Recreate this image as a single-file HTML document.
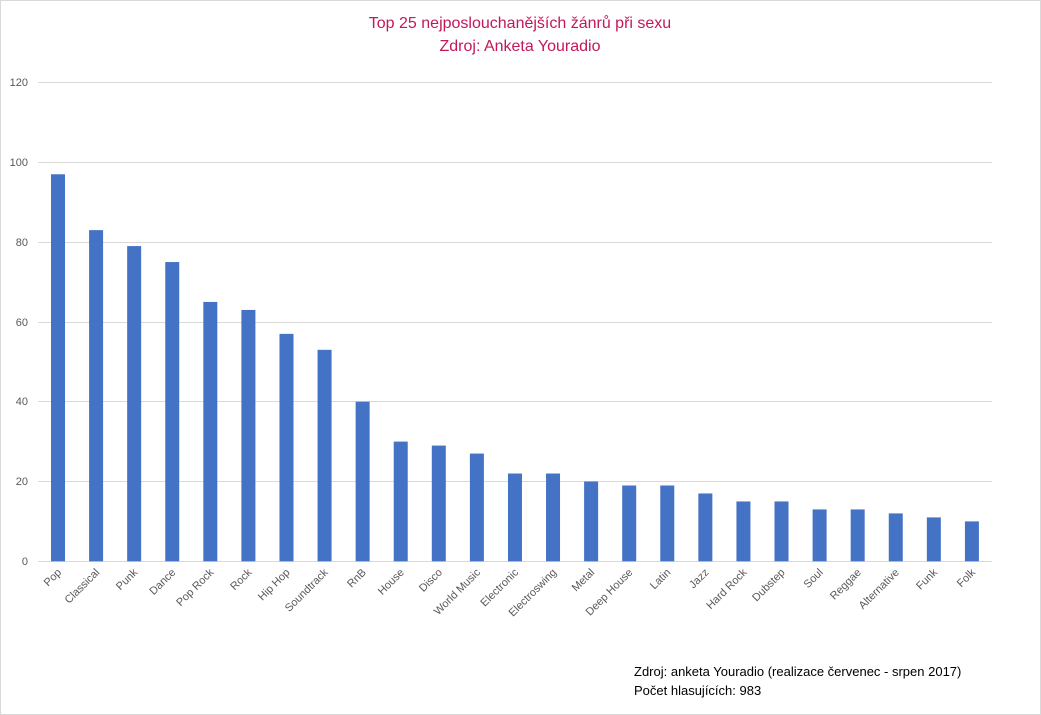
<!DOCTYPE html>
<html><head><meta charset="utf-8"><style>
body{margin:0;background:#fff}
svg{display:block}
</style></head><body>
<svg width="1041" height="715" xmlns="http://www.w3.org/2000/svg" font-family="'Liberation Sans', sans-serif">
<rect x="0.5" y="0.5" width="1040" height="714" fill="#fff" stroke="#d9d9d9"/>
<text x="520" y="28" text-anchor="middle" font-size="16" fill="#c2185b">Top 25 nejposlouchanějších žánrů při sexu</text>
<text x="520" y="51" text-anchor="middle" font-size="16" fill="#c2185b">Zdroj: Anketa Youradio</text>
<g stroke="#d9d9d9" stroke-width="1">
<line x1="38" x2="992" y1="82.5" y2="82.5"/>
<line x1="38" x2="992" y1="162.5" y2="162.5"/>
<line x1="38" x2="992" y1="242.5" y2="242.5"/>
<line x1="38" x2="992" y1="322.5" y2="322.5"/>
<line x1="38" x2="992" y1="401.5" y2="401.5"/>
<line x1="38" x2="992" y1="481.5" y2="481.5"/>
<line x1="38" x2="992" y1="561.5" y2="561.5"/>
</g>
<g font-size="11" fill="#595959" text-anchor="end">
<text x="28" y="86">120</text><text x="28" y="166">100</text><text x="28" y="246">80</text>
<text x="28" y="326">60</text><text x="28" y="405">40</text><text x="28" y="485">20</text><text x="28" y="565">0</text>
</g>
<g id="bars" fill="#4472c4"></g>
<g id="labels" font-size="11" fill="#595959" text-anchor="end"></g>
<text x="634" y="676" font-size="13" fill="#000">Zdroj: anketa Youradio (realizace červenec - srpen 2017)</text>
<text x="634" y="695" font-size="13" fill="#000">Počet hlasujících: 983</text>
<script>
var d=[["Pop",97],["Classical",83],["Punk",79],["Dance",75],["Pop Rock",65],["Rock",63],["Hip Hop",57],["Soundtrack",53],["RnB",40],["House",30],["Disco",29],["World Music",27],["Electronic",22],["Electroswing",22],["Metal",20],["Deep House",19],["Latin",19],["Jazz",17],["Hard Rock",15],["Dubstep",15],["Soul",13],["Reggae",13],["Alternative",12],["Funk",11],["Folk",10]];
var b=document.getElementById("bars"),l=document.getElementById("labels"),ns="http://www.w3.org/2000/svg";
d.forEach(function(e,i){var cx=58+i*38.08,h=e[1]*3.99;
var r=document.createElementNS(ns,"rect");r.setAttribute("x",cx-7);r.setAttribute("width",14);r.setAttribute("y",561.3-h);r.setAttribute("height",h);b.appendChild(r);
var t=document.createElementNS(ns,"text");t.setAttribute("transform","translate("+(cx+4)+",573) rotate(-45)");t.textContent=e[0];l.appendChild(t);});
</script>
</svg>
</body></html>
